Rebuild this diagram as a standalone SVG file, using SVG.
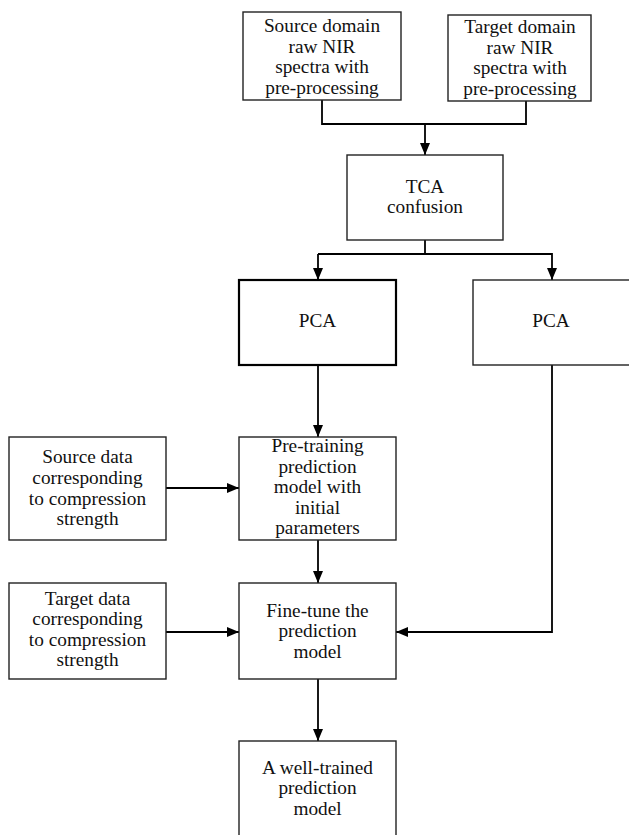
<svg xmlns="http://www.w3.org/2000/svg" width="629" height="835" viewBox="0 0 629 835">
<defs>
<marker id="ah" markerWidth="12" markerHeight="10" refX="12" refY="5" orient="auto" markerUnits="userSpaceOnUse">
<path d="M0,0 L12,5 L0,10 z" fill="#000"/>
</marker>
<style>
rect{fill:#fff;stroke:#222;stroke-width:1.4}
rect.bold{stroke:#000;stroke-width:2.2}
text{font-family:"Liberation Serif","Times New Roman",serif;font-size:19.3px;fill:#111;text-anchor:middle}
.c path{fill:none;stroke:#000;stroke-width:1.8}
.c path.a{marker-end:url(#ah)}
</style>
</defs>
<rect x="0" y="0" width="629" height="835" style="fill:#fff;stroke:none"/>
<g class="c" id="connectors">
<path d="M322,100 V124 H526 V101"/>
<path class="a" d="M425,124 V155"/>
<path d="M425,240 V254"/>
<path class="a" d="M318,254 H552 V280"/>
<path class="a" d="M318,254 V280"/>
<path class="a" d="M318,365 V437"/>
<path class="a" d="M166,488 H239"/>
<path class="a" d="M318,540 V583"/>
<path class="a" d="M166,632 H239"/>
<path class="a" d="M552,365 V632 H396"/>
<path class="a" d="M318,679 V741"/>
</g>
<g id="source">
<rect x="243" y="12" width="158" height="88"/>
<text x="322" y="32">Source domain</text>
<text x="322" y="52.5">raw NIR</text>
<text x="322" y="73">spectra with</text>
<text x="322" y="93.5">pre-processing</text>
</g>
<g id="target">
<rect x="448" y="15" width="143" height="86"/>
<text x="520" y="33">Target domain</text>
<text x="520" y="53.5">raw NIR</text>
<text x="520" y="74">spectra with</text>
<text x="520" y="94.5">pre-processing</text>
</g>
<g id="tca">
<rect x="347" y="155" width="156" height="85"/>
<text x="425" y="193">TCA</text>
<text x="425" y="213">confusion</text>
</g>
<g id="pca1">
<rect class="bold" x="239" y="280" width="157" height="85"/>
<text x="317.5" y="327">PCA</text>
</g>
<g id="pca2">
<rect x="473" y="280" width="170" height="85"/>
<text x="551" y="327">PCA</text>
</g>
<g id="sourcedata">
<rect x="9" y="437" width="157" height="103"/>
<text x="87.5" y="463">Source data</text>
<text x="87.5" y="484">corresponding</text>
<text x="87.5" y="504.5">to compression</text>
<text x="87.5" y="525">strength</text>
</g>
<g id="pretrain">
<rect x="239" y="437" width="157" height="103"/>
<text x="317.5" y="452">Pre-training</text>
<text x="317.5" y="472.5">prediction</text>
<text x="317.5" y="493">model with</text>
<text x="317.5" y="513.5">initial</text>
<text x="317.5" y="534">parameters</text>
</g>
<g id="targetdata">
<rect x="9" y="583" width="157" height="96"/>
<text x="87.5" y="604.5">Target data</text>
<text x="87.5" y="625">corresponding</text>
<text x="87.5" y="645.5">to compression</text>
<text x="87.5" y="666">strength</text>
</g>
<g id="finetune">
<rect x="239" y="583" width="157" height="96"/>
<text x="317.5" y="616.5">Fine-tune the</text>
<text x="317.5" y="637">prediction</text>
<text x="317.5" y="657.5">model</text>
</g>
<g id="final">
<rect x="239" y="741" width="157" height="100"/>
<text x="317.5" y="773.5">A well-trained</text>
<text x="317.5" y="794">prediction</text>
<text x="317.5" y="814.5">model</text>
</g>
</svg>
